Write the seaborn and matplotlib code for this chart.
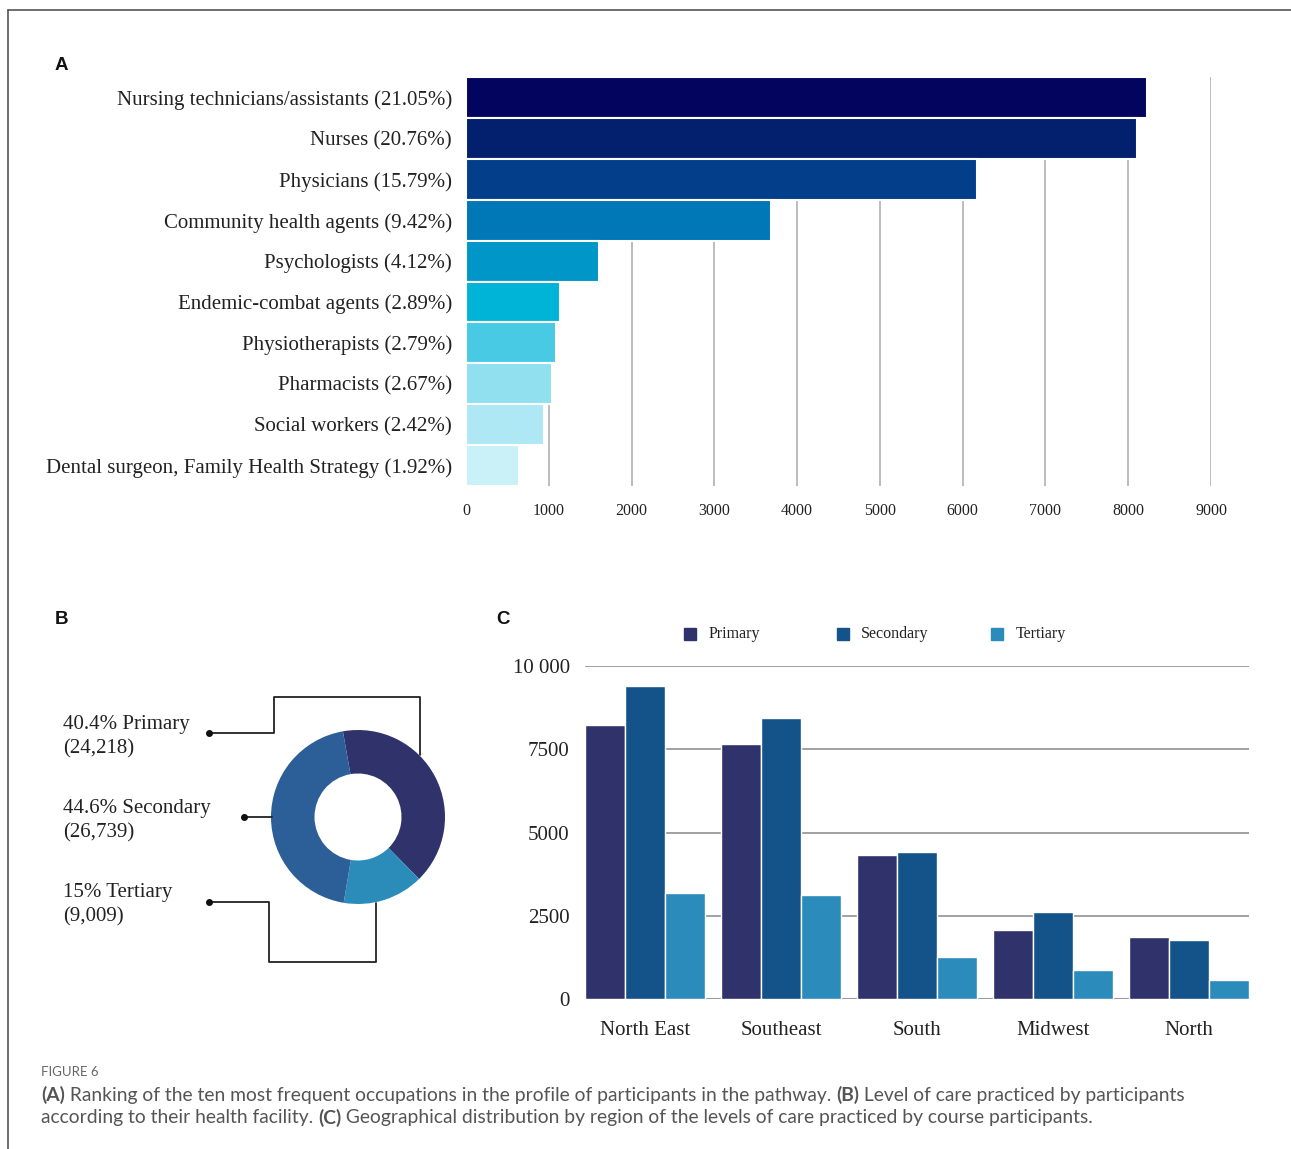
import numpy as np
import pandas as pd
import matplotlib
matplotlib.use("Agg")
import matplotlib.pyplot as plt
import seaborn as sns
from matplotlib.patches import Rectangle
from matplotlib.lines import Line2D

# ---------------- data ----------------
occupations = [
    "Nursing technicians/assistants (21.05%)",
    "Nurses (20.76%)",
    "Physicians (15.79%)",
    "Community health agents (9.42%)",
    "Psychologists (4.12%)",
    "Endemic-combat agents (2.89%)",
    "Physiotherapists (2.79%)",
    "Pharmacists (2.67%)",
    "Social workers (2.42%)",
    "Dental surgeon, Family Health Strategy (1.92%)",
]
occupation_counts = [8226, 8105, 6173, 3685, 1605, 1138, 1085, 1036, 943, 641]
occupation_colors = ["#03045e", "#03206e", "#023e8a", "#0077b6", "#0096c7",
                     "#00b4d8", "#48cae4", "#90e0ef", "#ade8f4", "#caf0f8"]
occupation_ticks = [0, 1000, 2000, 3000, 4000, 5000, 6000, 7000, 8000, 9000]

levels = ["Primary", "Secondary", "Tertiary"]
level_totals = [24218, 26739, 9009]
level_pct = ["40.4%", "44.6%", "15%"]
level_total_labels = ["(24,218)", "(26,739)", "(9,009)"]
donut_colors = ["#30336b", "#2c5f97", "#2b8cba"]

regions = ["North East", "Southeast", "South", "Midwest", "North"]
primary_by_region = [8222, 7653, 4325, 2087, 1867]
secondary_by_region = [9412, 8453, 4428, 2608, 1765]
tertiary_by_region = [3180, 3110, 1274, 883, 581]
bar_level_colors = ["#30336b", "#14538a", "#2b8bbb"]
region_yticks = [0, 2500, 5000, 7500, 10000]
region_ytick_labels = ["0", "2500", "5000", "7500", "10 000"]

# ---------------- setup ----------------
sns.set_theme(style="white")
plt.rcParams["font.family"] = ["Liberation Serif", "DejaVu Serif"]
W, H = 1291, 1149
fig = plt.figure(figsize=(W / 100, H / 100), dpi=100)
fig.patch.set_facecolor("white")


def px_axes(l, t, r, b):
    return fig.add_axes([l / W, 1 - b / H, (r - l) / W, (b - t) / H])


def fx(x):
    return x / W


def fy(y):
    return 1 - y / H


# border
fig.add_artist(Line2D([fx(8), fx(1291)], [fy(10), fy(10)], color="#555555", lw=1.2,
                      transform=fig.transFigure))
fig.add_artist(Line2D([fx(8), fx(8)], [fy(10), fy(1149)], color="#555555", lw=1.2,
                      transform=fig.transFigure))

letter_kw = dict(fontsize=13.5, fontweight="bold", family=["Liberation Sans", "DejaVu Sans"],
                 va="center", ha="left", color="#111111")
fig.text(fx(55), fy(66), "A", **letter_kw)
fig.text(fx(55), fy(619), "B", **letter_kw)
fig.text(fx(496), fy(619), "C", **letter_kw)

# ---------------- panel A ----------------
axA = px_axes(466, 77, 1211, 486)
dfA = pd.DataFrame({"occupation": occupations, "count": occupation_counts})
sns.barplot(data=dfA, x="count", y="occupation", hue="occupation",
            palette=occupation_colors, legend=False, width=1.0,
            edgecolor="white", linewidth=1.5, ax=axA, saturation=1)
axA.set_xlim(0, 9000)
axA.set_ylim(9.5, -0.5)
axA.set_xticks(occupation_ticks)
axA.set_xticklabels([str(t) for t in occupation_ticks])
axA.set_xlabel("")
axA.set_ylabel("")
axA.grid(axis="x", color="#b8b8b8", lw=1.3)
axA.grid(axis="y", visible=False)
axA.set_axisbelow(True)
for s in axA.spines.values():
    s.set_visible(False)
axA.tick_params(axis="x", length=0, pad=12, labelsize=11.5, colors="#222222")
axA.tick_params(axis="y", length=0, pad=10, labelsize=15, colors="#222222")

# ---------------- panel B ----------------
cx, cy, R = 358, 817, 87
axB = px_axes(cx - R, cy - R, cx + R, cy + R)
order = [0, 2, 1]  # clockwise: Primary, Tertiary, Secondary
axB.pie([level_totals[i] for i in order], colors=[donut_colors[i] for i in order],
        startangle=100, counterclock=False, radius=1,
        wedgeprops=dict(width=0.5, linewidth=0))
axB.set_xlim(-1, 1)
axB.set_ylim(-1, 1)
axB.set_aspect("equal")
axB.axis("off")

lead_kw = dict(color="#222222", lw=1.3, transform=fig.transFigure)
def polyline(pts):
    fig.add_artist(Line2D([fx(p[0]) for p in pts], [fy(p[1]) for p in pts], **lead_kw))

polyline([(209, 733), (274, 733), (274, 697), (420, 697), (420, 755)])
polyline([(244, 817), (272, 817)])
polyline([(209, 902), (269, 902), (269, 962), (376, 962), (376, 903)])
for (x, y) in [(209, 733), (244, 817), (209, 902)]:
    fig.add_artist(Line2D([fx(x)], [fy(y)], marker="o", ms=4, color="#111111",
                          transform=fig.transFigure))

for i, ytop in enumerate([721, 805, 889]):
    fig.text(fx(63), fy(ytop + 3), f"{level_pct[i]} {levels[i]}", fontsize=15,
             va="center", ha="left", color="#222222")
    fig.text(fx(63), fy(ytop + 28), level_total_labels[i], fontsize=15,
             va="center", ha="left", color="#222222")

# ---------------- panel C ----------------
axC = px_axes(585, 666, 1249, 999)
dfC = pd.DataFrame({
    "region": regions * 3,
    "level": [lv for lv in levels for _ in regions],
    "value": primary_by_region + secondary_by_region + tertiary_by_region,
})
sns.barplot(data=dfC, x="region", y="value", hue="level", hue_order=levels,
            palette=bar_level_colors, width=0.88, edgecolor="white", linewidth=1.0,
            saturation=1, ax=axC, legend=False)
axC.set_xlim(-0.44, 4.44)
axC.set_ylim(0, 10000)
axC.set_yticks(region_yticks)
axC.set_yticklabels(region_ytick_labels)
axC.set_xlabel("")
axC.set_ylabel("")
axC.grid(axis="y", color="#9a9a9a", lw=1.3)
axC.grid(axis="x", visible=False)
axC.set_axisbelow(True)
for k, s in axC.spines.items():
    s.set_visible(False)
axC.axhline(0, color="#9a9a9a", lw=1.5, zorder=0.5)
axC.tick_params(axis="y", length=0, pad=11, labelsize=15, colors="#222222")
axC.tick_params(axis="x", length=0, pad=16, labelsize=15, colors="#222222")

# legend
for i, (sx, tx) in enumerate([(684, 709), (837, 861), (991, 1016)]):
    fig.add_artist(Rectangle((fx(sx), fy(640)), 12 / W, 12 / H, color=bar_level_colors[i],
                             transform=fig.transFigure))
    fig.text(fx(tx), fy(634), levels[i], fontsize=11.5, va="center", ha="left",
             color="#222222")

# ---------------- caption ----------------
cap_font = ["Lato", "DejaVu Sans"]
fig.text(fx(41), fy(1072), "FIGURE 6", fontsize=9.5, family=cap_font, color="#666666",
         va="center", ha="left")

renderer = fig.canvas.get_renderer()
lines = [
    [("(A)", "bold"), (" Ranking of the ten most frequent occupations in the profile of participants in the pathway. ", "normal"),
     ("(B)", "bold"), (" Level of care practiced by participants", "normal")],
    [("according to their health facility. ", "normal"), ("(C)", "bold"),
     (" Geographical distribution by region of the levels of care practiced by course participants.", "normal")],
]
cap_size = 13.9
for li, (segs, ypix) in enumerate(zip(lines, [1095, 1118])):
    x = 41
    for txt, wgt in segs:
        t = fig.text(fx(x), fy(ypix), txt, fontsize=cap_size, family=cap_font,
                     fontweight=wgt, color="#555555", va="center", ha="left")
        bb = t.get_window_extent(renderer)
        x += bb.width

fig.savefig("out.png", dpi=100, facecolor="white")
